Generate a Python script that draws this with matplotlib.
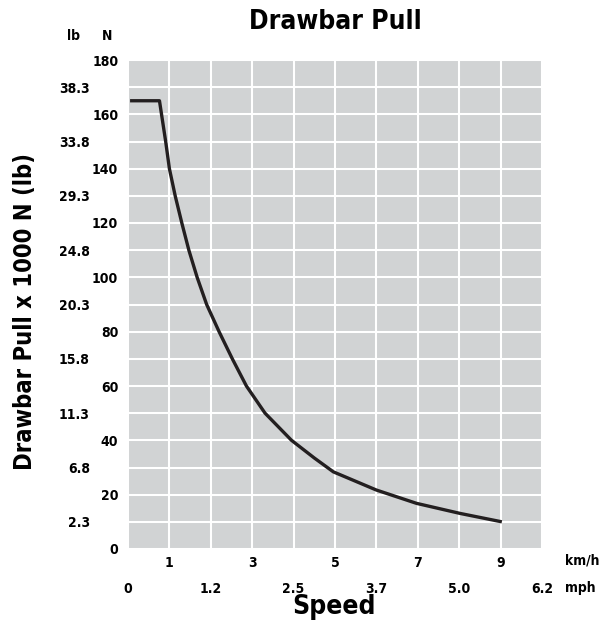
import matplotlib
matplotlib.use("Agg")
import matplotlib.pyplot as plt

# drawbar pull curve (km/h, kN)
speed_kmh = [0.05, 0.76, 0.91, 1.00, 1.14, 1.30, 1.47, 1.67, 1.90, 2.20, 2.52,
             2.86, 3.31, 3.95, 4.50, 4.96, 6.00, 6.97, 8.02, 9.03]
pull_kn = [165, 165, 150, 140, 130, 120, 110, 100, 90, 80, 70,
           60, 50, 40, 33.5, 28.4, 21.7, 16.8, 13.1, 10.0]

n_ticks = [0, 20, 40, 60, 80, 100, 120, 140, 160, 180]
lb_ticks = [10, 30, 50, 70, 90, 110, 130, 150, 170]
lb_labels = ["2.3", "6.8", "11.3", "15.8", "20.3", "24.8", "29.3", "33.8", "38.3"]
kmh_ticks = [1, 3, 5, 7, 9]
mph_ticks = [0, 2, 4, 6, 8, 10]
mph_labels = ["0", "1.2", "2.5", "3.7", "5.0", "6.2"]

plt.rcParams["font.family"] = ["DejaVu Sans"]
plt.rcParams["font.stretch"] = "condensed"
plt.rcParams["font.weight"] = "bold"

fig = plt.figure(figsize=(6.02, 6.21), dpi=100)
ax = fig.add_axes([128 / 602, 1 - 549 / 621, 414 / 602, 489 / 621])
ax.set_facecolor("#d1d3d4")
ax.set_xlim(0, 10)
ax.set_ylim(0, 180)

ax.set_xticks(kmh_ticks)
ax.set_xticks(range(0, 11), minor=True)
ax.set_yticks(n_ticks)
ax.set_yticks(range(0, 181, 10), minor=True)
ax.grid(True, which="both", color="white", linewidth=1.5)
ax.set_axisbelow(True)
for s in ax.spines.values():
    s.set_visible(False)
ax.tick_params(which="both", length=0, labelsize=10)
ax.tick_params(axis="y", pad=7)
ax.tick_params(axis="x", pad=5)

ax.plot(speed_kmh, pull_kn, color="#231f20", linewidth=2.4,
        solid_joinstyle="round", solid_capstyle="butt")

# second unit scales
sec_y = ax.secondary_yaxis(-0.092)
sec_y.set_yticks(lb_ticks, lb_labels)
sec_y.tick_params(length=0, pad=0, labelsize=10)
sec_y.spines["left"].set_visible(False)

sec_x = ax.secondary_xaxis(-0.067)
sec_x.set_xticks(mph_ticks, mph_labels)
sec_x.tick_params(length=0, pad=0, labelsize=10)
sec_x.spines["bottom"].set_visible(False)

fig.text(565 / 602, 1 - 560 / 621, "km/h", fontsize=10, ha="left", va="center")
fig.text(565 / 602, 1 - 588 / 621, "mph", fontsize=10, ha="left", va="center")
fig.text(73 / 602, 1 - 36 / 621, "lb", fontsize=10, ha="center", va="center")
fig.text(107 / 602, 1 - 36 / 621, "N", fontsize=10, ha="center", va="center")

fig.text(335 / 602, 1 - 22 / 621, "Drawbar Pull", fontsize=19, ha="center", va="center")
fig.text(334 / 602, 1 - 614 / 621, "Speed", fontsize=19, ha="center", va="baseline")
fig.text(25 / 602, 1 - 311 / 621, "Drawbar Pull x 1000 N (lb)", fontsize=17,
         rotation=90, ha="center", va="center")

fig.savefig("out.png", dpi=100)
